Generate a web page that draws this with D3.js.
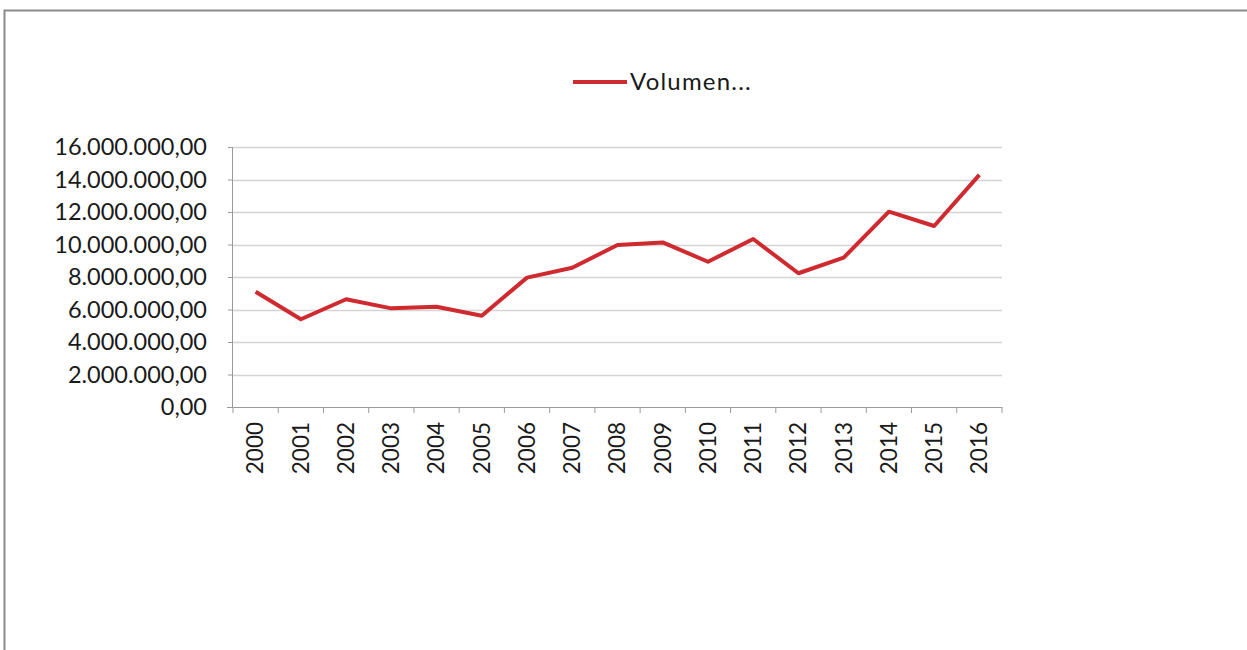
<!DOCTYPE html>
<html>
<head>
<meta charset="utf-8">
<script src="https://cdn.jsdelivr.net/npm/d3@7"></script>
<style>
  html, body { margin: 0; padding: 0; background: #fff; }
  svg { display: block; }
  text { font-family: Lato, "Open Sans", sans-serif; fill: #1a1a1a; }
</style>
</head>
<body>
<svg id="chart" width="1247" height="650"></svg>
<script>
// Annual volume, 2000–2016
const years = ["2000","2001","2002","2003","2004","2005","2006","2007","2008",
               "2009","2010","2011","2012","2013","2014","2015","2016"];
const volumen = [7090000, 5400000, 6630000, 6070000, 6170000, 5620000, 7960000, 8570000,
                 9970000, 10130000, 8940000, 10340000, 8230000, 9190000, 12020000, 11140000, 14280000];
const yTicks = [0, 2000000, 4000000, 6000000, 8000000, 10000000, 12000000, 14000000, 16000000];
const seriesName = "Volumen...";

const svg = d3.select("#chart");
const plot = { left: 233, right: 1002, top: 147, bottom: 407 };

// Spanish-style number format: dot thousands, comma decimals
const esLocale = d3.formatLocale({ decimal: ",", thousands: ".", grouping: [3], currency: ["", "€"] });
const fmt = esLocale.format(",.2f");

const x = d3.scaleBand().domain(years).range([plot.left, plot.right]).padding(0);
const y = d3.scaleLinear().domain([0, 16000000]).range([plot.bottom, plot.top]);

// Outer frame (top and left edges)
svg.append("path")
  .attr("d", `M4.5,650 V10.5 H1247`)
  .attr("fill", "none")
  .attr("stroke", "#8a8a8a")
  .attr("stroke-width", 2);

// Horizontal gridlines
svg.append("g")
  .selectAll("line")
  .data(yTicks.filter(d => d > 0))
  .join("line")
  .attr("x1", plot.left).attr("x2", plot.right)
  .attr("y1", d => Math.round(y(d)) + 0.5).attr("y2", d => Math.round(y(d)) + 0.5)
  .attr("stroke", "#d4d4d4")
  .attr("stroke-width", 1.5);

// Y axis
const yAxis = svg.append("g")
  .attr("transform", `translate(${plot.left},0)`)
  .call(d3.axisLeft(y).tickValues(yTicks).tickFormat(fmt).tickSize(5).tickPadding(21));
yAxis.select(".domain").attr("stroke", "#9a9a9a").attr("d", `M-0.5,${plot.top}V${plot.bottom}`);
yAxis.selectAll(".tick line").attr("stroke", "#9a9a9a");
yAxis.selectAll(".tick text").attr("font-size", 23.5).attr("fill", "#1a1a1a");

// X axis with ticks between categories
const xAxis = svg.append("g")
  .attr("transform", `translate(0,${plot.bottom})`);
xAxis.append("line")
  .attr("x1", plot.left - 6).attr("x2", plot.right)
  .attr("y1", 0.5).attr("y2", 0.5)
  .attr("stroke", "#9a9a9a");
xAxis.selectAll("line.tk")
  .data(years.concat(["end"]))
  .join("line")
  .attr("class", "tk")
  .attr("x1", (d, i) => plot.left + i * x.step())
  .attr("x2", (d, i) => plot.left + i * x.step())
  .attr("y1", 0).attr("y2", 6)
  .attr("stroke", "#9a9a9a");
xAxis.selectAll("text")
  .data(years)
  .join("text")
  .attr("transform", d => `translate(${x(d) + x.bandwidth() / 2},15) rotate(-90)`)
  .attr("text-anchor", "end")
  .attr("dy", "0.35em")
  .attr("font-size", 22.5)
  .text(d => d);

// Series line
const line = d3.line()
  .x((d, i) => x(years[i]) + x.bandwidth() / 2)
  .y(d => y(d));
svg.append("path")
  .datum(volumen)
  .attr("d", line)
  .attr("fill", "none")
  .attr("stroke", "#cf2a2f")
  .attr("stroke-width", 4)
  .attr("stroke-linejoin", "round");

// Legend
const legend = svg.append("g").attr("transform", "translate(573,82)");
legend.append("line")
  .attr("x1", 0).attr("x2", 54).attr("y1", 0).attr("y2", 0)
  .attr("stroke", "#cf2a2f").attr("stroke-width", 4);
legend.append("text")
  .attr("x", 57).attr("y", 0).attr("dy", "0.35em")
  .attr("font-size", 24)
  .attr("letter-spacing", 1.2)
  .text(seriesName);
</script>
</body>
</html>
